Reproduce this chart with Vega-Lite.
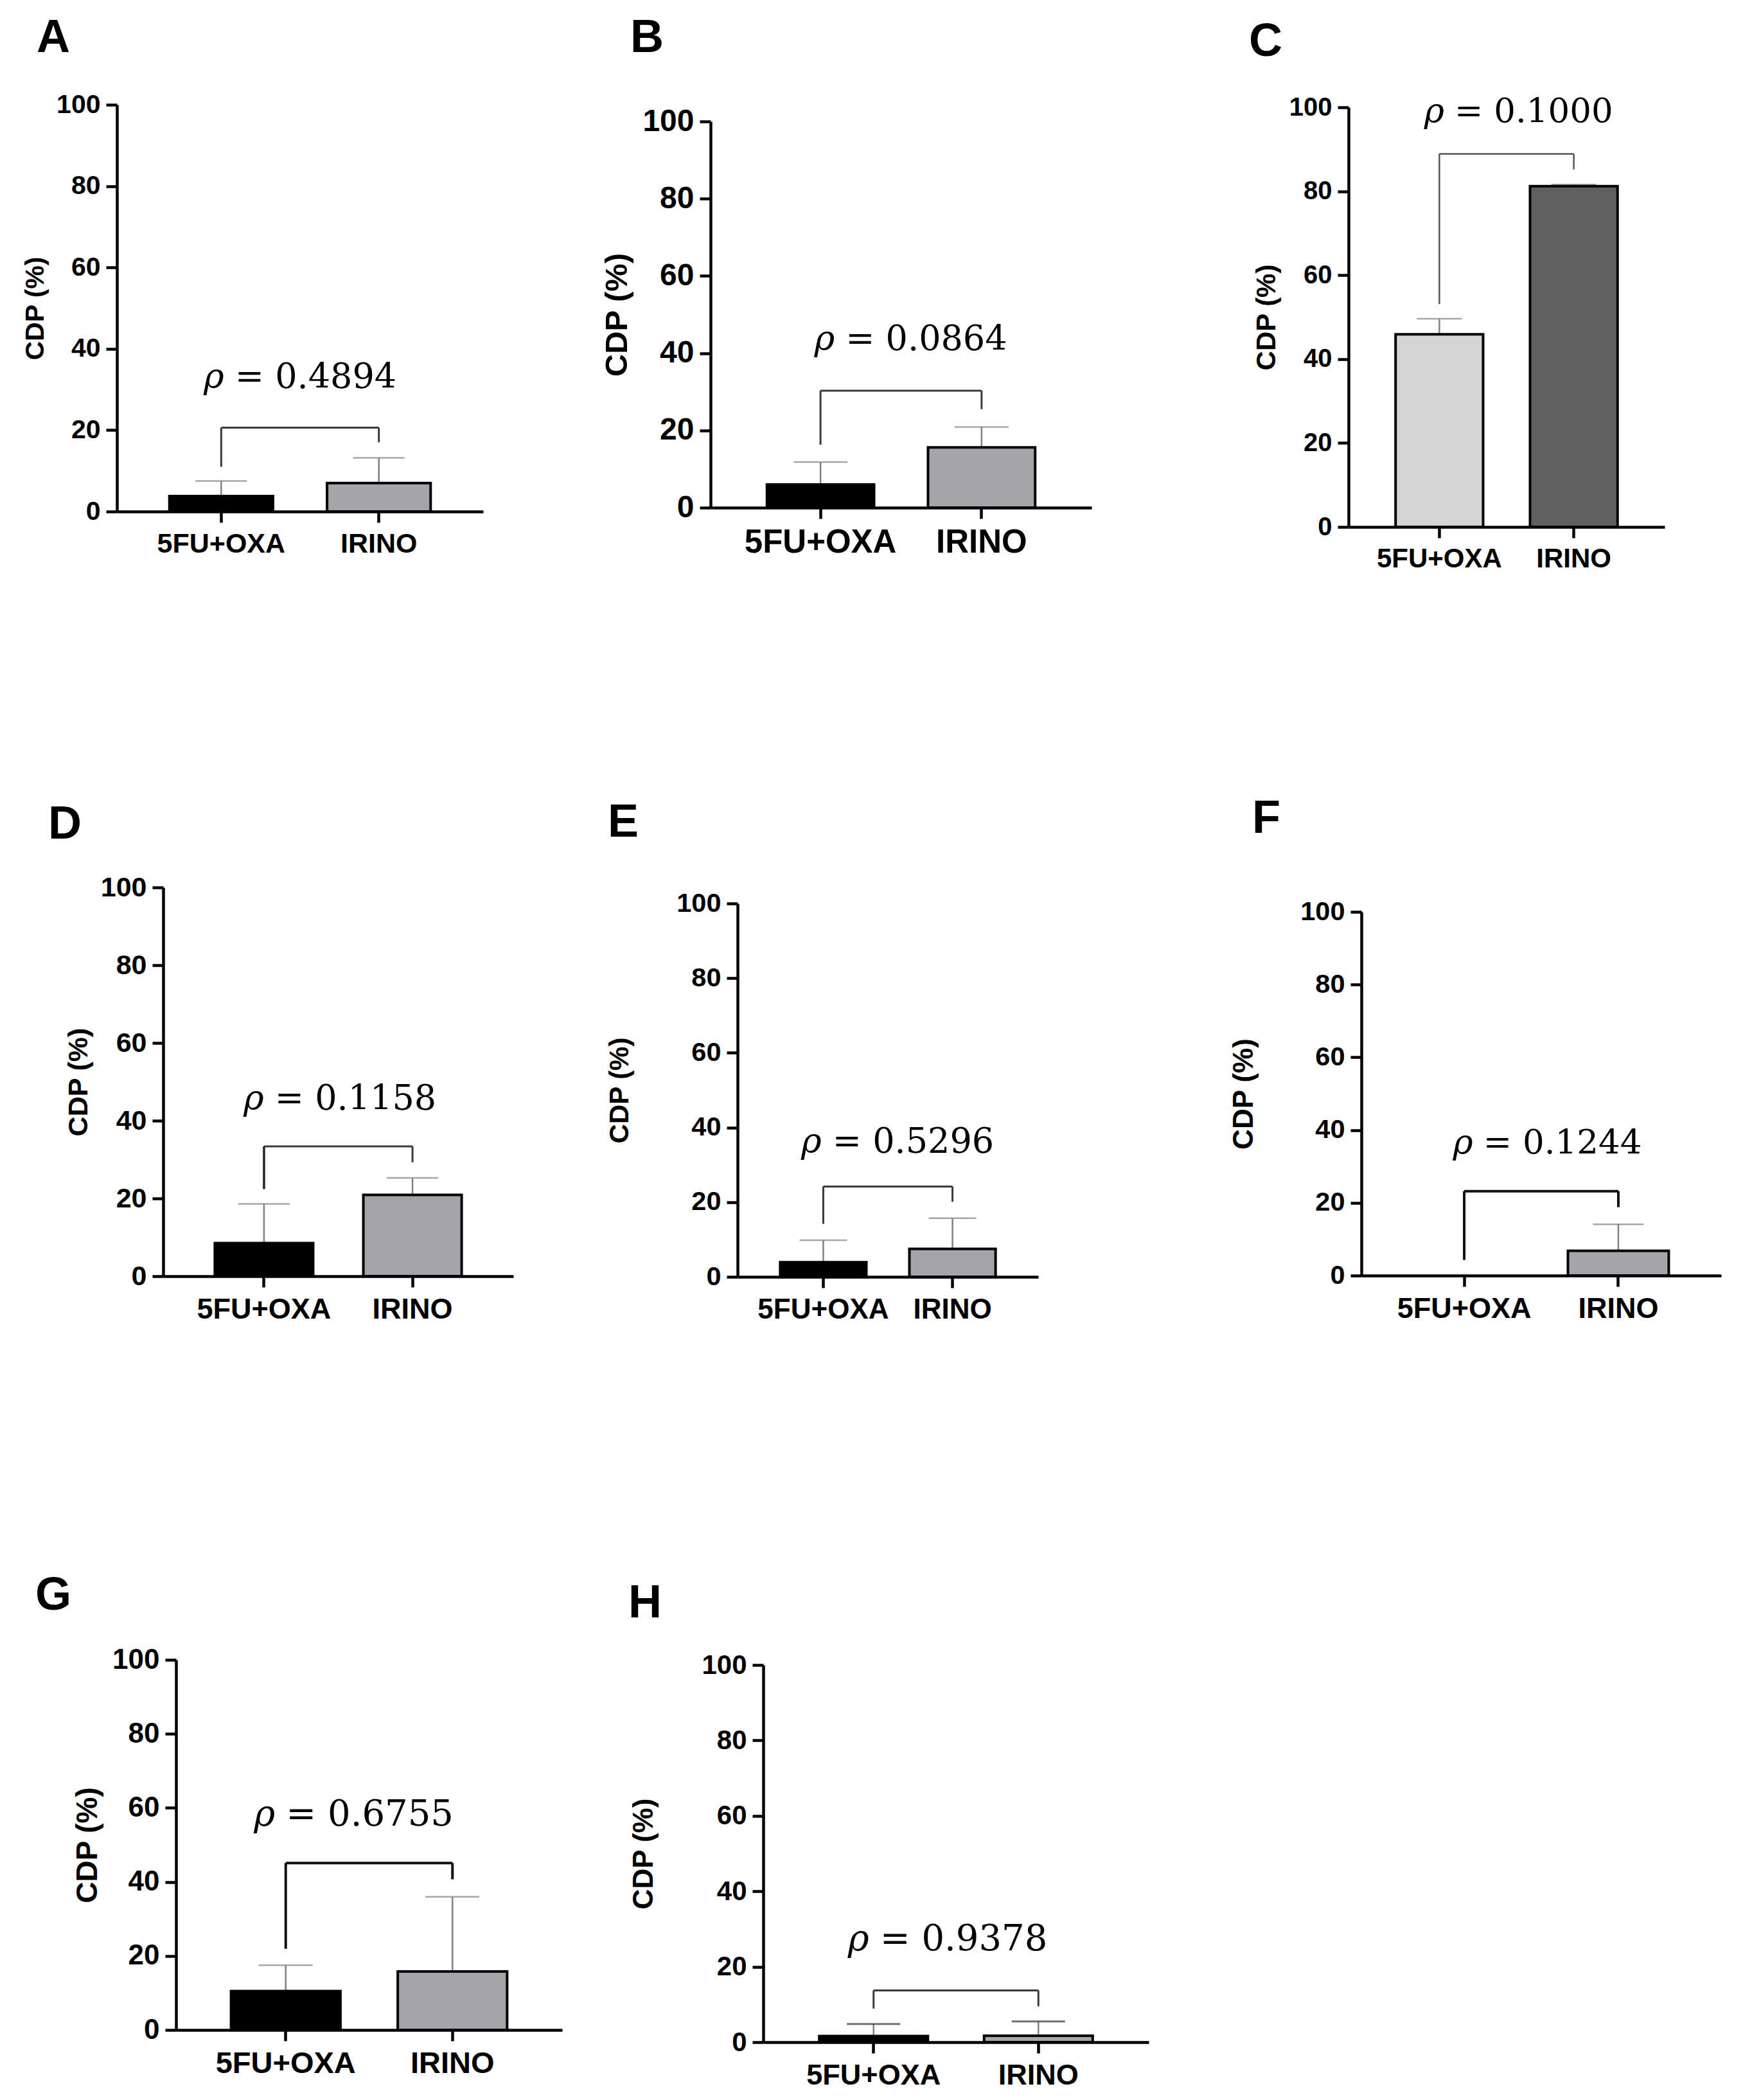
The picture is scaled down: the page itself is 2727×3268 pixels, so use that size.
{
  "$schema": "https://vega.github.io/schema/vega-lite/v6.json",
  "background": "white",
  "padding": {"left": 0, "top": 4, "right": 10, "bottom": 5},
  "config": {
    "view": {"stroke": null},
    "axis": {"grid": false, "domainColor": "#000000", "domainWidth": 4.5, "tickColor": "#000000", "tickWidth": 4.5, "tickSize": 17,
             "labelFont": "Liberation Sans", "labelFontWeight": "bold", "labelColor": "#000000", "labelPadding": 9, "labelLimit": 0,
             "titleFont": "Liberation Sans", "titleFontWeight": "bold", "titleColor": "#000000"},
    "axisX": {"labelAngle": 0, "labelPadding": 12},
    "title": {"font": "Liberation Sans", "fontSize": 72, "fontWeight": "bold", "color": "#000000", "anchor": "start", "frame": "group", "baseline": "alphabetic"}
  },
  "resolve": {"scale": {"fill": "independent"}},
  "spacing": 347,
  "vconcat": [
    {
      "concat": [
        {"width": 1, "height": 1, "data": {"values": [{"s": 0}]}, "mark": {"type": "point", "opacity": 0, "size": 1}, "encoding": {}},
        {
          "concat": [
            {
              "vconcat": [
                {"width": 1, "height": 1, "data": {"values": [{"s": 0}]}, "mark": {"type": "point", "opacity": 0, "size": 1}, "encoding": {}},
                {
                  "width": 570, "height": 633,
                  "title": {"text": "A", "dx": -125, "offset": 46},
                  "layer": [
                    {
                      "data": {"values": [
                        {"grp": "5FU+OXA", "mean": 3.8, "upper": 7.5},
                        {"grp": "IRINO", "mean": 7.0, "upper": 13.2}
                      ]},
                      "layer": [
                        {"mark": {"type": "rule", "color": "#808080", "strokeWidth": 2.5},
                         "encoding": {
                           "x": {"field": "grp", "type": "nominal", "title": null, "scale": {"domain": ["5FU+OXA", "IRINO"], "paddingInner": 0.343, "paddingOuter": 0.333}, "axis": {"labelFontSize": 43}},
                           "y": {"field": "mean", "type": "quantitative", "title": "CDP (%)", "scale": {"domain": [0, 100], "nice": false}, "axis": {"values": [0, 20, 40, 60, 80, 100], "labelFontSize": 41, "titleFontSize": 41, "titlePadding": 11}},
                           "y2": {"field": "upper"}}},
                        {"mark": {"type": "tick", "color": "#808080", "thickness": 2.5, "size": 80},
                         "encoding": {"x": {"field": "grp", "type": "nominal", "title": null}, "y": {"field": "upper", "type": "quantitative"}}},
                        {"mark": {"type": "bar", "stroke": "#000000", "strokeWidth": 4},
                         "encoding": {"x": {"field": "grp", "type": "nominal", "title": null}, "y": {"field": "mean", "type": "quantitative"},
                           "fill": {"field": "grp", "type": "nominal", "legend": null, "scale": {"domain": ["5FU+OXA", "IRINO"], "range": ["#000000", "#a5a5a9"]}}}}
                      ]
                    },
                    {
                      "data": {"values": [{"from": "5FU+OXA", "to": "IRINO", "top": 20.6, "legL": 11, "legR": 17, "sym": "ρ", "val": "= 0.4894", "ty": 32.8}]},
                      "layer": [
                        {"mark": {"type": "rule", "color": "#3a3a3a", "strokeWidth": 3},
                         "encoding": {"x": {"field": "from", "type": "nominal", "title": null}, "x2": {"field": "to"}, "y": {"field": "top", "type": "quantitative"}}},
                        {"mark": {"type": "rule", "color": "#3a3a3a", "strokeWidth": 3},
                         "encoding": {"x": {"field": "from", "type": "nominal", "title": null}, "y": {"field": "legL", "type": "quantitative"}, "y2": {"field": "top"}}},
                        {"mark": {"type": "rule", "color": "#3a3a3a", "strokeWidth": 3},
                         "encoding": {"x": {"field": "to", "type": "nominal", "title": null}, "y": {"field": "legR", "type": "quantitative"}, "y2": {"field": "top"}}},
                        {"mark": {"type": "text", "font": "DejaVu Serif", "fontStyle": "italic", "fontSize": 54, "baseline": "middle", "align": "right", "dx": -118, "color": "#000000"},
                         "encoding": {"x": {"field": "from", "type": "nominal", "title": null, "bandPosition": 1.26}, "y": {"field": "ty", "type": "quantitative"}, "text": {"field": "sym"}}},
                        {"mark": {"type": "text", "font": "DejaVu Serif", "fontSize": 54, "baseline": "middle", "align": "left", "dx": -101, "color": "#000000"},
                         "encoding": {"x": {"field": "from", "type": "nominal", "title": null, "bandPosition": 1.26}, "y": {"field": "ty", "type": "quantitative"}, "text": {"field": "val"}}}
                      ]
                    }
                  ]
                }
              ],
              "spacing": 18,
              "resolve": {"scale": {"fill": "independent"}}
            },
            {
              "concat": [
                {
                  "vconcat": [
                    {"width": 1, "height": 1, "data": {"values": [{"s": 0}]}, "mark": {"type": "point", "opacity": 0, "size": 1}, "encoding": {}},
                    {
                      "width": 593, "height": 601,
                      "title": {"text": "B", "dx": -125, "offset": 69},
                      "layer": [
                        {
                          "data": {"values": [
                            {"grp": "5FU+OXA", "mean": 6.0, "upper": 11.8},
                            {"grp": "IRINO", "mean": 15.6, "upper": 20.9}
                          ]},
                          "layer": [
                            {"mark": {"type": "rule", "color": "#808080", "strokeWidth": 2.5},
                             "encoding": {
                               "x": {"field": "grp", "type": "nominal", "title": null, "scale": {"domain": ["5FU+OXA", "IRINO"], "paddingInner": 0.335, "paddingOuter": 0.35}, "axis": {"labelFontSize": 51}},
                               "y": {"field": "mean", "type": "quantitative", "title": "CDP (%)", "scale": {"domain": [0, 100], "nice": false}, "axis": {"values": [0, 20, 40, 60, 80, 100], "labelFontSize": 48, "titleFontSize": 49, "titlePadding": 14}},
                               "y2": {"field": "upper"}}},
                            {"mark": {"type": "tick", "color": "#808080", "thickness": 2.5, "size": 84},
                             "encoding": {"x": {"field": "grp", "type": "nominal", "title": null}, "y": {"field": "upper", "type": "quantitative"}}},
                            {"mark": {"type": "bar", "stroke": "#000000", "strokeWidth": 4},
                             "encoding": {"x": {"field": "grp", "type": "nominal", "title": null}, "y": {"field": "mean", "type": "quantitative"},
                               "fill": {"field": "grp", "type": "nominal", "legend": null, "scale": {"domain": ["5FU+OXA", "IRINO"], "range": ["#000000", "#a5a5a9"]}}}}
                          ]
                        },
                        {
                          "data": {"values": [{"from": "5FU+OXA", "to": "IRINO", "top": 30.3, "legL": 16.3, "legR": 25.5, "sym": "ρ", "val": "= 0.0864", "ty": 43.5}]},
                          "layer": [
                            {"mark": {"type": "rule", "color": "#3a3a3a", "strokeWidth": 3},
                             "encoding": {"x": {"field": "from", "type": "nominal", "title": null}, "x2": {"field": "to"}, "y": {"field": "top", "type": "quantitative"}}},
                            {"mark": {"type": "rule", "color": "#3a3a3a", "strokeWidth": 3},
                             "encoding": {"x": {"field": "from", "type": "nominal", "title": null}, "y": {"field": "legL", "type": "quantitative"}, "y2": {"field": "top"}}},
                            {"mark": {"type": "rule", "color": "#3a3a3a", "strokeWidth": 3},
                             "encoding": {"x": {"field": "to", "type": "nominal", "title": null}, "y": {"field": "legR", "type": "quantitative"}, "y2": {"field": "top"}}},
                            {"mark": {"type": "text", "font": "DejaVu Serif", "fontStyle": "italic", "fontSize": 54, "baseline": "middle", "align": "right", "dx": -118, "color": "#000000"},
                             "encoding": {"x": {"field": "from", "type": "nominal", "title": null, "bandPosition": 1.34}, "y": {"field": "ty", "type": "quantitative"}, "text": {"field": "sym"}}},
                            {"mark": {"type": "text", "font": "DejaVu Serif", "fontSize": 54, "baseline": "middle", "align": "left", "dx": -101, "color": "#000000"},
                             "encoding": {"x": {"field": "from", "type": "nominal", "title": null, "bandPosition": 1.34}, "y": {"field": "ty", "type": "quantitative"}, "text": {"field": "val"}}}
                          ]
                        }
                      ]
                    }
                  ],
                  "spacing": 18,
                  "resolve": {"scale": {"fill": "independent"}}
                },
                {
                  "vconcat": [
                    {"width": 1, "height": 1, "data": {"values": [{"s": 0}]}, "mark": {"type": "point", "opacity": 0, "size": 1}, "encoding": {}},
                    {
                      "width": 492, "height": 653,
                      "title": {"text": "C", "dx": -155, "offset": 45},
                      "layer": [
                        {
                          "data": {"values": [
                            {"grp": "5FU+OXA", "mean": 45.9, "upper": 49.6},
                            {"grp": "IRINO", "mean": 81.2, "upper": 81.6}
                          ]},
                          "layer": [
                            {"mark": {"type": "rule", "color": "#808080", "strokeWidth": 2.5},
                             "encoding": {
                               "x": {"field": "grp", "type": "nominal", "title": null, "scale": {"domain": ["5FU+OXA", "IRINO"], "paddingInner": 0.349, "paddingOuter": 0.35}, "axis": {"labelFontSize": 42}},
                               "y": {"field": "mean", "type": "quantitative", "title": "CDP (%)", "scale": {"domain": [0, 100], "nice": false}, "axis": {"values": [0, 20, 40, 60, 80, 100], "labelFontSize": 40, "titleFontSize": 42, "titlePadding": 13}},
                               "y2": {"field": "upper"}}},
                            {"mark": {"type": "tick", "color": "#808080", "thickness": 2.5, "size": 70},
                             "encoding": {"x": {"field": "grp", "type": "nominal", "title": null}, "y": {"field": "upper", "type": "quantitative"}}},
                            {"mark": {"type": "bar", "stroke": "#000000", "strokeWidth": 4},
                             "encoding": {"x": {"field": "grp", "type": "nominal", "title": null}, "y": {"field": "mean", "type": "quantitative"},
                               "fill": {"field": "grp", "type": "nominal", "legend": null, "scale": {"domain": ["5FU+OXA", "IRINO"], "range": ["#d4d4d4", "#5f5f5f"]}}}}
                          ]
                        },
                        {
                          "data": {"values": [{"from": "5FU+OXA", "to": "IRINO", "top": 88.9, "legL": 53.1, "legR": 85.2, "sym": "ρ", "val": "= 0.1000", "ty": 98.9}]},
                          "layer": [
                            {"mark": {"type": "rule", "color": "#555555", "strokeWidth": 2.5},
                             "encoding": {"x": {"field": "from", "type": "nominal", "title": null}, "x2": {"field": "to"}, "y": {"field": "top", "type": "quantitative"}}},
                            {"mark": {"type": "rule", "color": "#555555", "strokeWidth": 2.5},
                             "encoding": {"x": {"field": "from", "type": "nominal", "title": null}, "y": {"field": "legL", "type": "quantitative"}, "y2": {"field": "top"}}},
                            {"mark": {"type": "rule", "color": "#555555", "strokeWidth": 2.5},
                             "encoding": {"x": {"field": "to", "type": "nominal", "title": null}, "y": {"field": "legR", "type": "quantitative"}, "y2": {"field": "top"}}},
                            {"mark": {"type": "text", "font": "DejaVu Serif", "fontStyle": "italic", "fontSize": 53, "baseline": "middle", "align": "right", "dx": -115, "color": "#000000"},
                             "encoding": {"x": {"field": "from", "type": "nominal", "title": null, "bandPosition": 1.40}, "y": {"field": "ty", "type": "quantitative"}, "text": {"field": "sym"}}},
                            {"mark": {"type": "text", "font": "DejaVu Serif", "fontSize": 53, "baseline": "middle", "align": "left", "dx": -99, "color": "#000000"},
                             "encoding": {"x": {"field": "from", "type": "nominal", "title": null, "bandPosition": 1.40}, "y": {"field": "ty", "type": "quantitative"}, "text": {"field": "val"}}}
                          ]
                        }
                      ]
                    }
                  ],
                  "spacing": 24,
                  "resolve": {"scale": {"fill": "independent"}}
                }
              ],
              "columns": 2, "align": "none", "spacing": 245,
              "resolve": {"scale": {"fill": "independent"}}
            }
          ],
          "columns": 2, "align": "none", "spacing": 184,
          "resolve": {"scale": {"fill": "independent"}}
        }
      ],
      "columns": 2, "align": "none", "spacing": 33,
      "resolve": {"scale": {"fill": "independent"}}
    },
    {
      "vconcat": [
        {
          "concat": [
            {"width": 1, "height": 1, "data": {"values": [{"s": 0}]}, "mark": {"type": "point", "opacity": 0, "size": 1}, "encoding": {}},
            {
              "concat": [
                {
                  "vconcat": [
                    {"width": 1, "height": 1, "data": {"values": [{"s": 0}]}, "mark": {"type": "point", "opacity": 0, "size": 1}, "encoding": {}},
                    {
                      "width": 545, "height": 605,
                      "title": {"text": "D", "dx": -179, "offset": 40},
                      "layer": [
                        {
                          "data": {"values": [
                            {"grp": "5FU+OXA", "mean": 8.5, "upper": 18.6},
                            {"grp": "IRINO", "mean": 20.9, "upper": 25.3}
                          ]},
                          "layer": [
                            {"mark": {"type": "rule", "color": "#808080", "strokeWidth": 2.5},
                             "encoding": {
                               "x": {"field": "grp", "type": "nominal", "title": null, "scale": {"domain": ["5FU+OXA", "IRINO"], "paddingInner": 0.338, "paddingOuter": 0.348}, "axis": {"labelFontSize": 45}},
                               "y": {"field": "mean", "type": "quantitative", "title": "CDP (%)", "scale": {"domain": [0, 100], "nice": false}, "axis": {"values": [0, 20, 40, 60, 80, 100], "labelFontSize": 43, "titleFontSize": 43, "titlePadding": 12}},
                               "y2": {"field": "upper"}}},
                            {"mark": {"type": "tick", "color": "#808080", "thickness": 2.5, "size": 80},
                             "encoding": {"x": {"field": "grp", "type": "nominal", "title": null}, "y": {"field": "upper", "type": "quantitative"}}},
                            {"mark": {"type": "bar", "stroke": "#000000", "strokeWidth": 4},
                             "encoding": {"x": {"field": "grp", "type": "nominal", "title": null}, "y": {"field": "mean", "type": "quantitative"},
                               "fill": {"field": "grp", "type": "nominal", "legend": null, "scale": {"domain": ["5FU+OXA", "IRINO"], "range": ["#000000", "#a5a5a9"]}}}}
                          ]
                        },
                        {
                          "data": {"values": [{"from": "5FU+OXA", "to": "IRINO", "top": 33.4, "legL": 22.4, "legR": 29.3, "sym": "ρ", "val": "= 0.1158", "ty": 45.5}]},
                          "layer": [
                            {"mark": {"type": "rule", "color": "#3a3a3a", "strokeWidth": 3},
                             "encoding": {"x": {"field": "from", "type": "nominal", "title": null}, "x2": {"field": "to"}, "y": {"field": "top", "type": "quantitative"}}},
                            {"mark": {"type": "rule", "color": "#222222", "strokeWidth": 3.5},
                             "encoding": {"x": {"field": "from", "type": "nominal", "title": null}, "y": {"field": "legL", "type": "quantitative"}, "y2": {"field": "top"}}},
                            {"mark": {"type": "rule", "color": "#3a3a3a", "strokeWidth": 3},
                             "encoding": {"x": {"field": "to", "type": "nominal", "title": null}, "y": {"field": "legR", "type": "quantitative"}, "y2": {"field": "top"}}},
                            {"mark": {"type": "text", "font": "DejaVu Serif", "fontStyle": "italic", "fontSize": 54, "baseline": "middle", "align": "right", "dx": -118, "color": "#000000"},
                             "encoding": {"x": {"field": "from", "type": "nominal", "title": null, "bandPosition": 1.27}, "y": {"field": "ty", "type": "quantitative"}, "text": {"field": "sym"}}},
                            {"mark": {"type": "text", "font": "DejaVu Serif", "fontSize": 54, "baseline": "middle", "align": "left", "dx": -101, "color": "#000000"},
                             "encoding": {"x": {"field": "from", "type": "nominal", "title": null, "bandPosition": 1.27}, "y": {"field": "ty", "type": "quantitative"}, "text": {"field": "val"}}}
                          ]
                        }
                      ]
                    }
                  ],
                  "spacing": 9,
                  "resolve": {"scale": {"fill": "independent"}}
                },
                {
                  "concat": [
                    {
                      "vconcat": [
                        {"width": 1, "height": 1, "data": {"values": [{"s": 0}]}, "mark": {"type": "point", "opacity": 0, "size": 1}, "encoding": {}},
                        {
                          "width": 468, "height": 581,
                          "title": {"text": "E", "dx": -202, "offset": 68},
                          "layer": [
                            {
                              "data": {"values": [
                                {"grp": "5FU+OXA", "mean": 3.9, "upper": 9.8},
                                {"grp": "IRINO", "mean": 7.5, "upper": 15.7}
                              ]},
                              "layer": [
                                {"mark": {"type": "rule", "color": "#808080", "strokeWidth": 2.5},
                                 "encoding": {
                                   "x": {"field": "grp", "type": "nominal", "title": null, "scale": {"domain": ["5FU+OXA", "IRINO"], "paddingInner": 0.333, "paddingOuter": 0.33}, "axis": {"labelFontSize": 44}},
                                   "y": {"field": "mean", "type": "quantitative", "title": "CDP (%)", "scale": {"domain": [0, 100], "nice": false}, "axis": {"values": [0, 20, 40, 60, 80, 100], "labelFontSize": 41.5, "titleFontSize": 42, "titlePadding": 66}},
                                   "y2": {"field": "upper"}}},
                                {"mark": {"type": "tick", "color": "#808080", "thickness": 2.5, "size": 74},
                                 "encoding": {"x": {"field": "grp", "type": "nominal", "title": null}, "y": {"field": "upper", "type": "quantitative"}}},
                                {"mark": {"type": "bar", "stroke": "#000000", "strokeWidth": 4},
                                 "encoding": {"x": {"field": "grp", "type": "nominal", "title": null}, "y": {"field": "mean", "type": "quantitative"},
                                   "fill": {"field": "grp", "type": "nominal", "legend": null, "scale": {"domain": ["5FU+OXA", "IRINO"], "range": ["#000000", "#a5a5a9"]}}}}
                              ]
                            },
                            {
                              "data": {"values": [{"from": "5FU+OXA", "to": "IRINO", "top": 24.2, "legL": 14.2, "legR": 20.1, "sym": "ρ", "val": "= 0.5296", "ty": 36}]},
                              "layer": [
                                {"mark": {"type": "rule", "color": "#3a3a3a", "strokeWidth": 3},
                                 "encoding": {"x": {"field": "from", "type": "nominal", "title": null}, "x2": {"field": "to"}, "y": {"field": "top", "type": "quantitative"}}},
                                {"mark": {"type": "rule", "color": "#3a3a3a", "strokeWidth": 3},
                                 "encoding": {"x": {"field": "from", "type": "nominal", "title": null}, "y": {"field": "legL", "type": "quantitative"}, "y2": {"field": "top"}}},
                                {"mark": {"type": "rule", "color": "#3a3a3a", "strokeWidth": 3},
                                 "encoding": {"x": {"field": "to", "type": "nominal", "title": null}, "y": {"field": "legR", "type": "quantitative"}, "y2": {"field": "top"}}},
                                {"mark": {"type": "text", "font": "DejaVu Serif", "fontStyle": "italic", "fontSize": 54, "baseline": "middle", "align": "right", "dx": -118, "color": "#000000"},
                                 "encoding": {"x": {"field": "from", "type": "nominal", "title": null, "bandPosition": 1.36}, "y": {"field": "ty", "type": "quantitative"}, "text": {"field": "sym"}}},
                                {"mark": {"type": "text", "font": "DejaVu Serif", "fontSize": 54, "baseline": "middle", "align": "left", "dx": -101, "color": "#000000"},
                                 "encoding": {"x": {"field": "from", "type": "nominal", "title": null, "bandPosition": 1.36}, "y": {"field": "ty", "type": "quantitative"}, "text": {"field": "val"}}}
                              ]
                            }
                          ]
                        }
                      ],
                      "spacing": 6,
                      "resolve": {"scale": {"fill": "independent"}}
                    },
                    {
                      "vconcat": [
                        {"width": 1, "height": 1, "data": {"values": [{"s": 0}]}, "mark": {"type": "point", "opacity": 0, "size": 1}, "encoding": {}},
                        {
                          "width": 560, "height": 566,
                          "title": {"text": "F", "dx": -170, "offset": 87},
                          "layer": [
                            {
                              "data": {"values": [
                                {"grp": "IRINO", "mean": 6.8, "upper": 14.1}
                              ]},
                              "layer": [
                                {"mark": {"type": "rule", "color": "#808080", "strokeWidth": 2.5},
                                 "encoding": {
                                   "x": {"field": "grp", "type": "nominal", "title": null, "scale": {"domain": ["5FU+OXA", "IRINO"], "paddingInner": 0.346, "paddingOuter": 0.34}, "axis": {"labelFontSize": 45}},
                                   "y": {"field": "mean", "type": "quantitative", "title": "CDP (%)", "scale": {"domain": [0, 100], "nice": false}, "axis": {"values": [0, 20, 40, 60, 80, 100], "labelFontSize": 41.5, "titleFontSize": 44, "titlePadding": 65}},
                                   "y2": {"field": "upper"}}},
                                {"mark": {"type": "tick", "color": "#808080", "thickness": 2.5, "size": 79},
                                 "encoding": {"x": {"field": "grp", "type": "nominal", "title": null}, "y": {"field": "upper", "type": "quantitative"}}},
                                {"mark": {"type": "bar", "stroke": "#000000", "strokeWidth": 4},
                                 "encoding": {"x": {"field": "grp", "type": "nominal", "title": null}, "y": {"field": "mean", "type": "quantitative"},
                                   "fill": {"field": "grp", "type": "nominal", "legend": null, "scale": {"domain": ["5FU+OXA", "IRINO"], "range": ["#000000", "#a5a5a9"]}}}}
                              ]
                            },
                            {
                              "data": {"values": [{"from": "5FU+OXA", "to": "IRINO", "top": 23.2, "legL": 4.3, "legR": 18.8, "sym": "ρ", "val": "= 0.1244", "ty": 36.4}]},
                              "layer": [
                                {"mark": {"type": "rule", "color": "#111111", "strokeWidth": 4},
                                 "encoding": {"x": {"field": "from", "type": "nominal", "title": null}, "x2": {"field": "to"}, "y": {"field": "top", "type": "quantitative"}}},
                                {"mark": {"type": "rule", "color": "#111111", "strokeWidth": 4},
                                 "encoding": {"x": {"field": "from", "type": "nominal", "title": null}, "y": {"field": "legL", "type": "quantitative"}, "y2": {"field": "top"}}},
                                {"mark": {"type": "rule", "color": "#111111", "strokeWidth": 4},
                                 "encoding": {"x": {"field": "to", "type": "nominal", "title": null}, "y": {"field": "legR", "type": "quantitative"}, "y2": {"field": "top"}}},
                                {"mark": {"type": "text", "font": "DejaVu Serif", "fontStyle": "italic", "fontSize": 53, "baseline": "middle", "align": "right", "dx": -115, "color": "#000000"},
                                 "encoding": {"x": {"field": "from", "type": "nominal", "title": null, "bandPosition": 1.32}, "y": {"field": "ty", "type": "quantitative"}, "text": {"field": "sym"}}},
                                {"mark": {"type": "text", "font": "DejaVu Serif", "fontSize": 53, "baseline": "middle", "align": "left", "dx": -99, "color": "#000000"},
                                 "encoding": {"x": {"field": "from", "type": "nominal", "title": null, "bandPosition": 1.32}, "y": {"field": "ty", "type": "quantitative"}, "text": {"field": "val"}}}
                              ]
                            }
                          ]
                        }
                      ],
                      "spacing": 0,
                      "resolve": {"scale": {"fill": "independent"}}
                    }
                  ],
                  "columns": 2, "align": "none", "spacing": 298,
                  "resolve": {"scale": {"fill": "independent"}}
                }
              ],
              "columns": 2, "align": "none", "spacing": 144,
              "resolve": {"scale": {"fill": "independent"}}
            }
          ],
          "columns": 2, "align": "none", "spacing": 74,
          "resolve": {"scale": {"fill": "independent"}}
        },
        {
          "concat": [
            {"width": 1, "height": 1, "data": {"values": [{"s": 0}]}, "mark": {"type": "point", "opacity": 0, "size": 1}, "encoding": {}},
            {
              "concat": [
                {
                  "vconcat": [
                    {"width": 1, "height": 1, "data": {"values": [{"s": 0}]}, "mark": {"type": "point", "opacity": 0, "size": 1}, "encoding": {}},
                    {
                      "width": 601, "height": 576,
                      "title": {"text": "G", "dx": -219, "offset": 41},
                      "layer": [
                        {
                          "data": {"values": [
                            {"grp": "5FU+OXA", "mean": 10.5, "upper": 17.5},
                            {"grp": "IRINO", "mean": 15.8, "upper": 36.0}
                          ]},
                          "layer": [
                            {"mark": {"type": "rule", "color": "#808080", "strokeWidth": 2.5},
                             "encoding": {
                               "x": {"field": "grp", "type": "nominal", "title": null, "scale": {"domain": ["5FU+OXA", "IRINO"], "paddingInner": 0.344, "paddingOuter": 0.33}, "axis": {"labelFontSize": 47}},
                               "y": {"field": "mean", "type": "quantitative", "title": "CDP (%)", "scale": {"domain": [0, 100], "nice": false}, "axis": {"values": [0, 20, 40, 60, 80, 100], "labelFontSize": 44, "titleFontSize": 46, "titlePadding": 14}},
                               "y2": {"field": "upper"}}},
                            {"mark": {"type": "tick", "color": "#808080", "thickness": 2.5, "size": 84},
                             "encoding": {"x": {"field": "grp", "type": "nominal", "title": null}, "y": {"field": "upper", "type": "quantitative"}}},
                            {"mark": {"type": "bar", "stroke": "#000000", "strokeWidth": 4},
                             "encoding": {"x": {"field": "grp", "type": "nominal", "title": null}, "y": {"field": "mean", "type": "quantitative"},
                               "fill": {"field": "grp", "type": "nominal", "legend": null, "scale": {"domain": ["5FU+OXA", "IRINO"], "range": ["#000000", "#a5a5a9"]}}}}
                          ]
                        },
                        {
                          "data": {"values": [{"from": "5FU+OXA", "to": "IRINO", "top": 45.1, "legL": 21.9, "legR": 40.7, "sym": "ρ", "val": "= 0.6755", "ty": 58.1}]},
                          "layer": [
                            {"mark": {"type": "rule", "color": "#111111", "strokeWidth": 4},
                             "encoding": {"x": {"field": "from", "type": "nominal", "title": null}, "x2": {"field": "to"}, "y": {"field": "top", "type": "quantitative"}}},
                            {"mark": {"type": "rule", "color": "#111111", "strokeWidth": 4},
                             "encoding": {"x": {"field": "from", "type": "nominal", "title": null}, "y": {"field": "legL", "type": "quantitative"}, "y2": {"field": "top"}}},
                            {"mark": {"type": "rule", "color": "#111111", "strokeWidth": 4},
                             "encoding": {"x": {"field": "to", "type": "nominal", "title": null}, "y": {"field": "legR", "type": "quantitative"}, "y2": {"field": "top"}}},
                            {"mark": {"type": "text", "font": "DejaVu Serif", "fontStyle": "italic", "fontSize": 56, "baseline": "middle", "align": "right", "dx": -122, "color": "#000000"},
                             "encoding": {"x": {"field": "from", "type": "nominal", "title": null, "bandPosition": 1.12}, "y": {"field": "ty", "type": "quantitative"}, "text": {"field": "sym"}}},
                            {"mark": {"type": "text", "font": "DejaVu Serif", "fontSize": 56, "baseline": "middle", "align": "left", "dx": -105, "color": "#000000"},
                             "encoding": {"x": {"field": "from", "type": "nominal", "title": null, "bandPosition": 1.12}, "y": {"field": "ty", "type": "quantitative"}, "text": {"field": "val"}}}
                          ]
                        }
                      ]
                    }
                  ],
                  "spacing": 0,
                  "resolve": {"scale": {"fill": "independent"}}
                },
                {
                  "vconcat": [
                    {"width": 1, "height": 1, "data": {"values": [{"s": 0}]}, "mark": {"type": "point", "opacity": 0, "size": 1}, "encoding": {}},
                    {
                      "width": 600, "height": 587,
                      "title": {"text": "H", "dx": -210, "offset": 38},
                      "layer": [
                        {
                          "data": {"values": [
                            {"grp": "5FU+OXA", "mean": 1.6, "upper": 4.8},
                            {"grp": "IRINO", "mean": 1.7, "upper": 5.5}
                          ]},
                          "layer": [
                            {"mark": {"type": "rule", "color": "#808080", "strokeWidth": 2.5},
                             "encoding": {
                               "x": {"field": "grp", "type": "nominal", "title": null, "scale": {"domain": ["5FU+OXA", "IRINO"], "paddingInner": 0.341, "paddingOuter": 0.34}, "axis": {"labelFontSize": 45}},
                               "y": {"field": "mean", "type": "quantitative", "title": "CDP (%)", "scale": {"domain": [0, 100], "nice": false}, "axis": {"values": [0, 20, 40, 60, 80, 100], "labelFontSize": 42, "titleFontSize": 44, "titlePadding": 67}},
                               "y2": {"field": "upper"}}},
                            {"mark": {"type": "tick", "color": "#333333", "thickness": 3, "size": 83},
                             "encoding": {"x": {"field": "grp", "type": "nominal", "title": null}, "y": {"field": "upper", "type": "quantitative"}}},
                            {"mark": {"type": "bar", "stroke": "#000000", "strokeWidth": 4},
                             "encoding": {"x": {"field": "grp", "type": "nominal", "title": null}, "y": {"field": "mean", "type": "quantitative"},
                               "fill": {"field": "grp", "type": "nominal", "legend": null, "scale": {"domain": ["5FU+OXA", "IRINO"], "range": ["#000000", "#a5a5a9"]}}}}
                          ]
                        },
                        {
                          "data": {"values": [{"from": "5FU+OXA", "to": "IRINO", "top": 13.7, "legL": 8.9, "legR": 9.5, "sym": "ρ", "val": "= 0.9378", "ty": 27.2}]},
                          "layer": [
                            {"mark": {"type": "rule", "color": "#3a3a3a", "strokeWidth": 3},
                             "encoding": {"x": {"field": "from", "type": "nominal", "title": null}, "x2": {"field": "to"}, "y": {"field": "top", "type": "quantitative"}}},
                            {"mark": {"type": "rule", "color": "#3a3a3a", "strokeWidth": 3},
                             "encoding": {"x": {"field": "from", "type": "nominal", "title": null}, "y": {"field": "legL", "type": "quantitative"}, "y2": {"field": "top"}}},
                            {"mark": {"type": "rule", "color": "#3a3a3a", "strokeWidth": 3},
                             "encoding": {"x": {"field": "to", "type": "nominal", "title": null}, "y": {"field": "legR", "type": "quantitative"}, "y2": {"field": "top"}}},
                            {"mark": {"type": "text", "font": "DejaVu Serif", "fontStyle": "italic", "fontSize": 56, "baseline": "middle", "align": "right", "dx": -122, "color": "#000000"},
                             "encoding": {"x": {"field": "from", "type": "nominal", "title": null, "bandPosition": 1.18}, "y": {"field": "ty", "type": "quantitative"}, "text": {"field": "sym"}}},
                            {"mark": {"type": "text", "font": "DejaVu Serif", "fontSize": 56, "baseline": "middle", "align": "left", "dx": -105, "color": "#000000"},
                             "encoding": {"x": {"field": "from", "type": "nominal", "title": null, "bandPosition": 1.18}, "y": {"field": "ty", "type": "quantitative"}, "text": {"field": "val"}}}
                          ]
                        }
                      ]
                    }
                  ],
                  "spacing": 12,
                  "resolve": {"scale": {"fill": "independent"}}
                }
              ],
              "columns": 2, "align": "none", "spacing": 103,
              "resolve": {"scale": {"fill": "independent"}}
            }
          ],
          "columns": 2, "align": "none", "spacing": 54,
          "resolve": {"scale": {"fill": "independent"}}
        }
      ],
      "spacing": 386,
      "resolve": {"scale": {"fill": "independent"}}
    }
  ]
}
